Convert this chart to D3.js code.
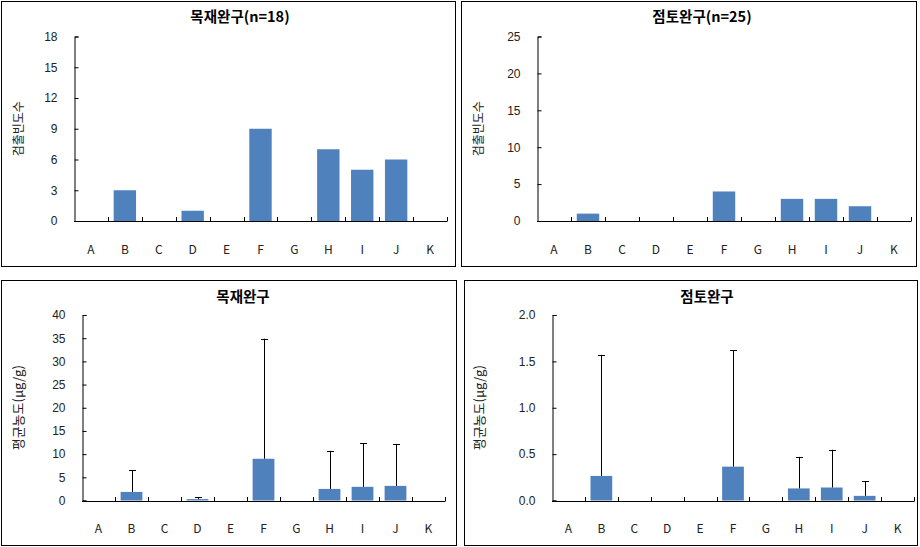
<!DOCTYPE html>
<html>
<head>
<meta charset="utf-8">
<script src="https://cdn.jsdelivr.net/npm/d3@7/dist/d3.min.js"></script>
<style>
  body { margin: 0; background: #fff; }
  svg { display: block; font-family: "Noto Sans CJK KR", "Noto Sans", sans-serif; }
  .tick text { fill: #222; }
</style>
</head>
<body>
<svg id="chart" width="920" height="547"></svg>
<script>
// categorieen langs de x-as
const categories = ["A", "B", "C", "D", "E", "F", "G", "H", "I", "J", "K"];

//검출빈도수 per categorie
const woodCount = [0, 3, 0, 1, 0, 9, 0, 7, 5, 6, 0];
const clayCount = [0, 1, 0, 0, 0, 4, 0, 3, 3, 2, 0];

// 평균농도 en bovenkant van de foutbalk
const woodMean = [0, 1.85, 0, 0.3, 0, 9.0, 0, 2.5, 2.95, 3.15, 0];
const woodUpper = [0, 6.55, 0, 0.65, 0, 34.9, 0, 10.7, 12.4, 12.2, 0];
const clayMean = [0, 0.265, 0, 0, 0, 0.365, 0, 0.13, 0.14, 0.05, 0];
const clayUpper = [0, 1.57, 0, 0, 0, 1.62, 0, 0.47, 0.547, 0.205, 0];

// y-as ticks
const countTicksWood = [0, 3, 6, 9, 12, 15, 18];
const countTicksClay = [0, 5, 10, 15, 20, 25];
const concTicksWood = [0, 5, 10, 15, 20, 25, 30, 35, 40];
const concTicksClay = [0, 0.5, 1.0, 1.5, 2.0];

const barColor = "#4f81bd";
const svg = d3.select("#chart");

// de vier panelen
const panels = [
  { box: [1, 1, 455, 266], plot: [74, 36.5, 447, 221], title: "목재완구(n=18)", titleX: 240, titleY: 22,
    ylabel: "검출빈도수", ylabelX: 17, ylabelSize: 12, values: woodCount, upper: null, ticks: countTicksWood, fmt: d3.format("d") },
  { box: [461, 1, 916, 266], plot: [537, 36.5, 911, 221], title: "점토완구(n=25)", titleX: 702, titleY: 22,
    ylabel: "검출빈도수", ylabelX: 477, ylabelSize: 12, values: clayCount, upper: null, ticks: countTicksClay, fmt: d3.format("d") },
  { box: [1, 280, 456, 545], plot: [82, 315, 445, 500.5], title: "목재완구", titleX: 243, titleY: 302,
    ylabel: "평균농도(μg/g)", ylabelX: 17, ylabelSize: 13, values: woodMean, upper: woodUpper, ticks: concTicksWood, fmt: d3.format("d") },
  { box: [464, 280, 917, 545], plot: [552, 315, 914, 500.5], title: "점토완구", titleX: 707, titleY: 302,
    ylabel: "평균농도(μg/g)", ylabelX: 478, ylabelSize: 13, values: clayMean, upper: clayUpper, ticks: concTicksClay, fmt: d3.format(".1f") }
];

panels.forEach(function(p) { drawPanel(p); });

function drawPanel(p) {
  const [bx0, by0, bx1, by1] = p.box;
  const [px0, py0, px1, py1] = p.plot;

  // rand om het paneel
  svg.append("rect")
      .attr("x", bx0 + 0.5).attr("y", by0 + 0.5)
      .attr("width", bx1 - bx0).attr("height", by1 - by0)
      .attr("fill", "none").attr("stroke", "#000").attr("stroke-width", 1);

  const data = categories.map(function(c, i) {
    return { cat: c, value: p.values[i], upper: p.upper ? p.upper[i] : null };
  });

  // schalen
  const xCell = d3.scaleBand().domain(categories).range([px0, px1]).padding(0);
  const xBar = d3.scaleBand().domain(categories).range([px0, px1])
      .paddingInner(0.34).paddingOuter(0.17);
  const yScale = d3.scaleLinear()
      .domain([0, p.ticks[p.ticks.length - 1]])
      .range([py1, py0]);

  // titel
  svg.append("text")
      .attr("x", p.titleX).attr("y", p.titleY)
      .attr("text-anchor", "middle")
      .attr("font-size", 14.5).attr("font-weight", "bold")
      .text(p.title);

  // y-as label
  svg.append("text")
      .attr("transform", "translate(" + p.ylabelX + "," + ((py0 + py1) / 2) + ") rotate(-90)")
      .attr("text-anchor", "middle")
      .attr("dominant-baseline", "central")
      .attr("font-size", p.ylabelSize).attr("fill", "#222")
      .text(p.ylabel);

  // balken
  svg.append("g")
    .selectAll("rect")
      .data(data.filter(function(d) { return d.value > 0; }))
      .enter()
      .append("rect")
      .attr("x", function(d) { return xBar(d.cat); })
      .attr("width", xBar.bandwidth())
      .attr("y", function(d) { return yScale(d.value); })
      .attr("height", function(d) { return yScale(0) - yScale(d.value); })
      .attr("fill", barColor);

  // foutbalken
  if (p.upper) {
    const err = svg.append("g")
        .attr("stroke", "#000").attr("stroke-width", 1)
      .selectAll("g")
        .data(data.filter(function(d) { return d.upper > 0; }))
        .enter()
        .append("g");
    err.append("line")
        .attr("x1", function(d) { return Math.round(xCell(d.cat) + xCell.bandwidth() / 2) + 0.5; })
        .attr("x2", function(d) { return Math.round(xCell(d.cat) + xCell.bandwidth() / 2) + 0.5; })
        .attr("y1", function(d) { return yScale(d.value); })
        .attr("y2", function(d) { return yScale(d.upper); });
    err.append("line")
        .attr("x1", function(d) { return Math.round(xCell(d.cat) + xCell.bandwidth() / 2) - 3; })
        .attr("x2", function(d) { return Math.round(xCell(d.cat) + xCell.bandwidth() / 2) + 4; })
        .attr("y1", function(d) { return Math.round(yScale(d.upper)) + 0.5; })
        .attr("y2", function(d) { return Math.round(yScale(d.upper)) + 0.5; });
  }

  // y-as
  svg.append("g")
      .attr("transform", "translate(" + (Math.round(px0) + 0.5) + ",0)")
      .call(d3.axisLeft(yScale)
        .tickValues(p.ticks)
        .tickFormat(p.fmt)
        .tickSize(-4)
        .tickPadding(17))
      .call(function(g) {
        g.select(".domain").attr("stroke", "#000");
        g.selectAll(".tick line").attr("stroke", "#000");
        g.selectAll(".tick text").attr("font-size", 12).attr("font-family", null);
      });

  // x-as lijn
  svg.append("line")
      .attr("x1", px0).attr("x2", px1)
      .attr("y1", Math.round(py1) + 0.5).attr("y2", Math.round(py1) + 0.5)
      .attr("stroke", "#000");

  // ticks op de grenzen tussen categorieen
  const bounds = categories.slice(1).map(function(c) { return xCell(c); }).concat([px1]);
  svg.append("g")
    .selectAll("line")
      .data(bounds)
      .enter()
      .append("line")
      .attr("x1", function(d) { return Math.round(d) + 0.5; })
      .attr("x2", function(d) { return Math.round(d) + 0.5; })
      .attr("y1", Math.round(py1) + 0.5)
      .attr("y2", Math.round(py1) - 4)
      .attr("stroke", "#000");

  // categorie labels
  svg.append("g")
    .selectAll("text")
      .data(categories)
      .enter()
      .append("text")
      .attr("x", function(d) { return xCell(d) + xCell.bandwidth() / 2; })
      .attr("y", py1 + 27)
      .attr("text-anchor", "middle")
      .attr("dominant-baseline", "central")
      .attr("font-size", 12).attr("fill", "#222")
      .text(function(d) { return d; });
}
</script>
</body>
</html>
